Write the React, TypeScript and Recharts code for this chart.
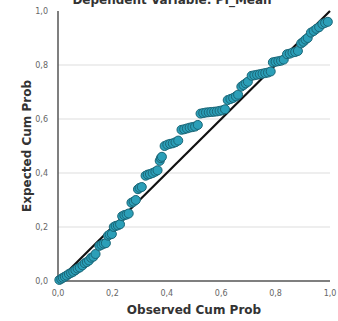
import { ScatterChart, Scatter, XAxis, YAxis, ZAxis, CartesianGrid, ReferenceLine } from 'recharts';

// observed cumulative probability (x) and expected cumulative probability (y)
const observed = [
  0.005, 0.012, 0.018, 0.025, 0.032, 0.04,
  0.048, 0.056, 0.064, 0.072, 0.08,
  0.09, 0.098, 0.106, 0.114,
  0.122, 0.13, 0.138,
  0.152, 0.16, 0.168, 0.176,
  0.184, 0.19, 0.198,
  0.205, 0.212, 0.22, 0.228,
  0.236, 0.244, 0.252, 0.26,
  0.27, 0.278, 0.286,
  0.294, 0.3, 0.308,
  0.322, 0.33, 0.338, 0.348, 0.358, 0.366,
  0.374, 0.378, 0.382,
  0.392, 0.402, 0.412, 0.422, 0.432, 0.442,
  0.454, 0.464, 0.474, 0.484, 0.494, 0.504, 0.514,
  0.524, 0.534, 0.544, 0.554, 0.564, 0.574, 0.584, 0.594, 0.604, 0.614,
  0.624, 0.634, 0.644, 0.654, 0.662,
  0.674, 0.682, 0.69, 0.698,
  0.712, 0.722, 0.732, 0.742, 0.752, 0.762, 0.772, 0.782,
  0.79, 0.8, 0.81, 0.82, 0.83,
  0.842, 0.852, 0.862, 0.872, 0.882,
  0.894, 0.902, 0.91, 0.918,
  0.93, 0.94, 0.95, 0.96,
  0.972, 0.982, 0.992,
];

const expected = [
  0.004, 0.008, 0.012, 0.016, 0.02, 0.026,
  0.03, 0.034, 0.04, 0.046, 0.05,
  0.058, 0.066, 0.07, 0.076,
  0.086, 0.09, 0.1,
  0.13, 0.134, 0.138, 0.14,
  0.168, 0.172, 0.174,
  0.2, 0.204, 0.206, 0.21,
  0.24, 0.244, 0.246, 0.25,
  0.29, 0.294, 0.3,
  0.34, 0.345, 0.348,
  0.39, 0.394, 0.396, 0.4, 0.405, 0.41,
  0.445, 0.455, 0.46,
  0.5, 0.505, 0.508, 0.51, 0.514, 0.52,
  0.56, 0.562, 0.565, 0.568, 0.57, 0.572, 0.578,
  0.62, 0.622, 0.624, 0.625, 0.626, 0.627, 0.628, 0.63, 0.632, 0.636,
  0.67, 0.674, 0.678, 0.684, 0.69,
  0.72, 0.726, 0.732, 0.738,
  0.76, 0.762, 0.764, 0.766, 0.768, 0.77, 0.772, 0.776,
  0.81, 0.812, 0.814, 0.816, 0.82,
  0.84, 0.842, 0.846, 0.848, 0.852,
  0.88, 0.886, 0.894, 0.9,
  0.92, 0.926, 0.934, 0.94,
  0.952, 0.956, 0.96,
];

const ticks = [0, 0.2, 0.4, 0.6, 0.8, 1];
const tickLabels = ['0,0', '0,2', '0,4', '0,6', '0,8', '1,0'];

const points = observed.map((x, i) => ({ x, y: expected[i] }));

const fmt = (v: number) => tickLabels[ticks.indexOf(v)] ?? String(v);

const tickStyle = { fontSize: 8, fill: '#666', fontFamily: 'DejaVu Sans' };
const labelStyle = { fontSize: 12, fontWeight: 'bold', fill: '#333', fontFamily: 'DejaVu Sans' };

export default function App() {
  return (
    <div style={{ position: 'absolute', left: 0, top: 0, width: 338, height: 321, background: '#fff', overflow: 'hidden' }}>
      <div
        style={{
          position: 'absolute',
          left: 0,
          width: 344,
          top: -7,
          textAlign: 'center',
          fontFamily: 'DejaVu Sans',
          fontWeight: 'bold',
          fontSize: 12,
          color: '#333',
        }}
      >
        Dependent Variable: PI_Mean
      </div>
      <ScatterChart width={338} height={321} margin={{ top: 11, right: 8, bottom: 0, left: 0 }}>
        <CartesianGrid vertical={false} stroke="#ddd" horizontalValues={[0.2, 0.4, 0.6, 0.8]} />
        <XAxis
          type="number"
          dataKey="x"
          domain={[0, 1]}
          ticks={ticks}
          tickFormatter={fmt}
          tick={tickStyle}
          tickLine={false}
          tickMargin={3}
          axisLine={{ stroke: '#555', strokeWidth: 1.5 }}
          height={40}
          label={{ value: 'Observed Cum Prob', position: 'center', dy: 9, style: labelStyle }}
        />
        <YAxis
          type="number"
          dataKey="y"
          domain={[0, 1]}
          ticks={ticks}
          tickFormatter={fmt}
          tick={tickStyle}
          tickLine={false}
          tickMargin={4}
          axisLine={{ stroke: '#555', strokeWidth: 1.5 }}
          width={58}
          label={{ value: 'Expected Cum Prob', angle: -90, position: 'center', dx: -2, style: labelStyle }}
        />
        <ZAxis range={[34, 34]} />
        <Scatter
          data={points}
          fill="#2b9fb8"
          stroke="#1a6677"
          strokeWidth={1}
          shape="circle"
          isAnimationActive={false}
        />
        <ReferenceLine
          segment={[{ x: 0, y: 0 }, { x: 1, y: 1 }]}
          stroke="#111"
          strokeWidth={2.2}
          ifOverflow="visible"
        />
      </ScatterChart>
    </div>
  );
}
